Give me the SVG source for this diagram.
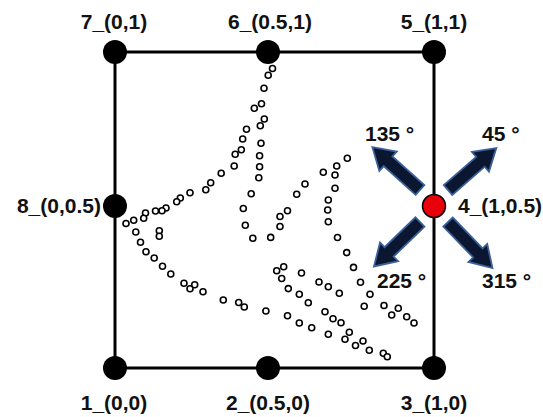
<svg xmlns="http://www.w3.org/2000/svg" xmlns:xlink="http://www.w3.org/1999/xlink" width="543" height="417" viewBox="0 0 543 417">
<style>
.lbl{font-family:"Liberation Sans",Arial,sans-serif;font-weight:bold;font-size:21px;fill:#111}
.node{fill:#000}
.pt{fill:#fff;stroke:#000;stroke-width:1.6}
.arr{fill:#0b1730;stroke:#3a619a;stroke-width:1.8;stroke-linejoin:miter}
</style>
<defs>
<path id="arrow" d="M0,-6.5 L43,-6.5 L43,-13 L64,0 L43,13 L43,6.5 L0,6.5 Z"/>
</defs>
<rect width="543" height="417" fill="#fff"/>
<g id="connectors" fill="none" stroke="#000" stroke-width="3">
<line x1="115" y1="52" x2="434" y2="52"/>
<line x1="115" y1="368" x2="434" y2="368"/>
<line x1="115" y1="52" x2="115" y2="368"/>
<line x1="434" y1="52" x2="434" y2="368"/>
</g>
<g id="samples">
<circle class="pt" cx="272.5" cy="68.5" r="3"/><circle class="pt" cx="268.2" cy="75.3" r="3"/><circle class="pt" cx="264" cy="88.3" r="3"/><circle class="pt" cx="261.5" cy="103.8" r="3"/><circle class="pt" cx="254.3" cy="108.3" r="3"/><circle class="pt" cx="264.3" cy="119" r="3"/><circle class="pt" cx="260.3" cy="125.8" r="3"/><circle class="pt" cx="246.5" cy="129.2" r="3"/><circle class="pt" cx="242.7" cy="139" r="3"/><circle class="pt" cx="241.3" cy="149.7" r="3"/><circle class="pt" cx="235.2" cy="154.3" r="3"/><circle class="pt" cx="234.2" cy="166" r="3"/><circle class="pt" cx="221.2" cy="173.3" r="3"/><circle class="pt" cx="210.7" cy="182.8" r="3"/><circle class="pt" cx="205.8" cy="189.7" r="3"/><circle class="pt" cx="190" cy="192.8" r="3"/><circle class="pt" cx="180.3" cy="198" r="3"/><circle class="pt" cx="176.7" cy="201.7" r="3"/><circle class="pt" cx="166" cy="208" r="3"/><circle class="pt" cx="162" cy="210.7" r="3"/><circle class="pt" cx="155.5" cy="211" r="3"/><circle class="pt" cx="145.5" cy="213" r="3"/><circle class="pt" cx="143.7" cy="218.3" r="3"/><circle class="pt" cx="133.7" cy="220.3" r="3"/><circle class="pt" cx="126" cy="223.5" r="3"/>
<circle class="pt" cx="261" cy="143.3" r="3"/><circle class="pt" cx="259.6" cy="155.8" r="3"/><circle class="pt" cx="259.6" cy="166.7" r="3"/><circle class="pt" cx="258.8" cy="177.7" r="3"/><circle class="pt" cx="251.2" cy="193.7" r="3"/><circle class="pt" cx="243.3" cy="208.5" r="3"/><circle class="pt" cx="245.3" cy="225.3" r="3"/><circle class="pt" cx="252.8" cy="238.3" r="3"/><circle class="pt" cx="270.7" cy="237.4" r="3"/><circle class="pt" cx="280" cy="226.5" r="3"/><circle class="pt" cx="280" cy="216.5" r="3"/><circle class="pt" cx="287.5" cy="210.7" r="3"/><circle class="pt" cx="296.7" cy="194.3" r="3"/><circle class="pt" cx="305" cy="184" r="3"/><circle class="pt" cx="323.3" cy="172.3" r="3"/><circle class="pt" cx="336.7" cy="166" r="3"/><circle class="pt" cx="347.3" cy="158.3" r="3"/><circle class="pt" cx="335" cy="175" r="3"/><circle class="pt" cx="335" cy="188.3" r="3"/><circle class="pt" cx="328.3" cy="200" r="3"/><circle class="pt" cx="327.7" cy="210" r="3"/><circle class="pt" cx="328.3" cy="221.7" r="3"/><circle class="pt" cx="337.5" cy="237.5" r="3"/><circle class="pt" cx="346.7" cy="252.6" r="3"/><circle class="pt" cx="353.5" cy="267.4" r="3"/><circle class="pt" cx="360.5" cy="282.2" r="3"/><circle class="pt" cx="370" cy="294.3" r="3"/><circle class="pt" cx="364.2" cy="306.3" r="3"/><circle class="pt" cx="384" cy="305.5" r="3"/><circle class="pt" cx="391.7" cy="315" r="3"/><circle class="pt" cx="398.3" cy="308.3" r="3"/><circle class="pt" cx="406.7" cy="316.7" r="3"/><circle class="pt" cx="414" cy="323" r="3"/>
<circle class="pt" cx="135.8" cy="232" r="3"/><circle class="pt" cx="140.5" cy="242.3" r="3"/><circle class="pt" cx="146" cy="251.7" r="3"/><circle class="pt" cx="154.2" cy="258" r="3"/><circle class="pt" cx="162.5" cy="266.3" r="3"/><circle class="pt" cx="170.8" cy="274" r="3"/><circle class="pt" cx="184" cy="283.2" r="3"/><circle class="pt" cx="190" cy="288.8" r="3"/><circle class="pt" cx="194.7" cy="284.7" r="3"/><circle class="pt" cx="203" cy="291.7" r="3"/><circle class="pt" cx="223.3" cy="300" r="3"/><circle class="pt" cx="238.7" cy="302.5" r="3"/><circle class="pt" cx="244.3" cy="307" r="3"/><circle class="pt" cx="265.9" cy="311" r="3"/><circle class="pt" cx="287.5" cy="315.8" r="3"/><circle class="pt" cx="299.3" cy="323" r="3"/><circle class="pt" cx="311.7" cy="327.7" r="3"/><circle class="pt" cx="328.3" cy="334.3" r="3"/><circle class="pt" cx="345" cy="339.3" r="3"/><circle class="pt" cx="349.3" cy="332.3" r="3"/><circle class="pt" cx="355.5" cy="345.5" r="3"/><circle class="pt" cx="363" cy="341" r="3"/><circle class="pt" cx="369.3" cy="350.3" r="3"/><circle class="pt" cx="383.3" cy="353.3" r="3"/><circle class="pt" cx="387.3" cy="356.7" r="3"/>
<circle class="pt" cx="159.3" cy="230.8" r="3"/><circle class="pt" cx="159.3" cy="236.3" r="3"/>
<circle class="pt" cx="276.7" cy="270.8" r="3"/><circle class="pt" cx="283.7" cy="266.8" r="3"/><circle class="pt" cx="281.7" cy="278.5" r="3"/><circle class="pt" cx="301.5" cy="273" r="3"/><circle class="pt" cx="288.3" cy="288.6" r="3"/><circle class="pt" cx="299.3" cy="294.3" r="3"/><circle class="pt" cx="308.3" cy="302.7" r="3"/><circle class="pt" cx="319" cy="282" r="3"/><circle class="pt" cx="328.3" cy="286.7" r="3"/><circle class="pt" cx="339.3" cy="293.3" r="3"/><circle class="pt" cx="325" cy="311.7" r="3"/><circle class="pt" cx="333" cy="318.8" r="3"/><circle class="pt" cx="341" cy="322.7" r="3"/>
</g>
<g id="arrows">
<use href="#arrow" class="arr" transform="translate(420,190) rotate(-138)"/>
<use href="#arrow" class="arr" transform="translate(448,190) rotate(-41)"/>
<use href="#arrow" class="arr" transform="translate(420,222) rotate(136)"/>
<use href="#arrow" class="arr" transform="translate(448,222) rotate(46)"/>
</g>
<g id="node7"><circle class="node" cx="115" cy="52" r="12"/><text class="lbl" x="114" y="29" text-anchor="middle">7_(0,1)</text></g>
<g id="node6"><circle class="node" cx="268" cy="52" r="12"/><text class="lbl" x="270" y="29" text-anchor="middle">6_(0.5,1)</text></g>
<g id="node5"><circle class="node" cx="434" cy="52" r="12"/><text class="lbl" x="434" y="29" text-anchor="middle">5_(1,1)</text></g>
<g id="node8"><circle class="node" cx="115" cy="206" r="12"/><text class="lbl" x="101" y="213" text-anchor="end">8_(0,0.5)</text></g>
<g id="node4"><circle cx="434" cy="206" r="11.5" fill="#e8000b" stroke="#000" stroke-width="1.5"/><text class="lbl" x="458" y="213">4_(1,0.5)</text></g>
<g id="node1"><circle class="node" cx="115" cy="368" r="12"/><text class="lbl" x="114" y="410" text-anchor="middle">1_(0,0)</text></g>
<g id="node2"><circle class="node" cx="268" cy="368" r="12"/><text class="lbl" x="268" y="410" text-anchor="middle">2_(0.5,0)</text></g>
<g id="node3"><circle class="node" cx="434" cy="368" r="12"/><text class="lbl" x="434" y="410" text-anchor="middle">3_(1,0)</text></g>
<g id="angle-labels">
<text class="lbl" x="365" y="141">135 °</text>
<text class="lbl" x="482" y="141">45 °</text>
<text class="lbl" x="377" y="288">225 °</text>
<text class="lbl" x="482" y="288">315 °</text>
</g>
</svg>
